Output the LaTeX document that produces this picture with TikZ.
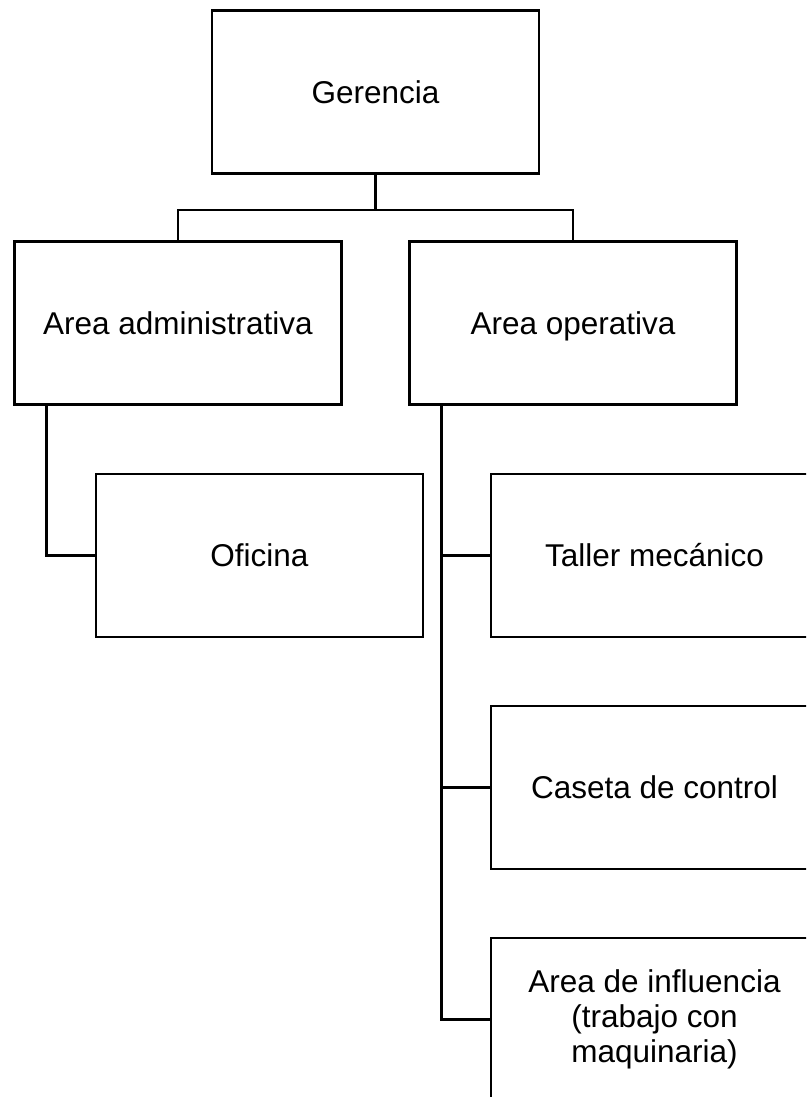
\documentclass[tikz,border=0pt]{standalone}
\usepackage{fontspec}
\setmainfont{Liberation Sans}
\usepackage{tikz}
\usetikzlibrary{positioning,calc}

\tikzset{
    caja/.style={draw, line width=2.5pt, minimum width=327pt, minimum height=163pt,
        align=center, font=\fontsize{31.5}{35}\selectfont, inner sep=0pt},
    una/.style={caja, text height=25pt, text depth=2.5pt},
    linea/.style={line width=2.5pt}
}

\begin{document}
\begin{tikzpicture}[x=1pt, y=-1pt]
    \clip (0,0) rectangle (806,1097);
    \fill[white] (0,0) rectangle (806,1097);

    \node[una] (ger) at (375.5,92) {Gerencia};
    \node[una] (adm) at (178,323) {Area administrativa};
    \node[una] (ope) at (573,323) {Area operativa};
    \node[una] (ofi) at (259.5,555.5) {Oficina};
    \node[una] (tal) at (654.5,555.5) {Taller mecánico};
    \node[una] (cas) at (654.5,787.5) {Caseta de control};
    \node[caja] (inf) at (654.5,1019.5) {Area de influencia\\(trabajo con\\maquinaria)};

    \coordinate (bar) at ($(ger.south)+(0,35)$);
    \draw[linea] (ger.south) -- (bar) -| (adm.north);
    \draw[linea] (bar) -| (ope.north);

    \coordinate (ladm) at ([xshift=33pt]adm.south west);
    \draw[linea] (ladm) |- (ofi.west);

    \coordinate (lope) at ([xshift=33pt]ope.south west);
    \draw[linea] (lope) |- (inf.west);
    \foreach \n in {tal,cas}
        \draw[linea] (\n.west) -- (\n.west -| lope);
\end{tikzpicture}
\end{document}
